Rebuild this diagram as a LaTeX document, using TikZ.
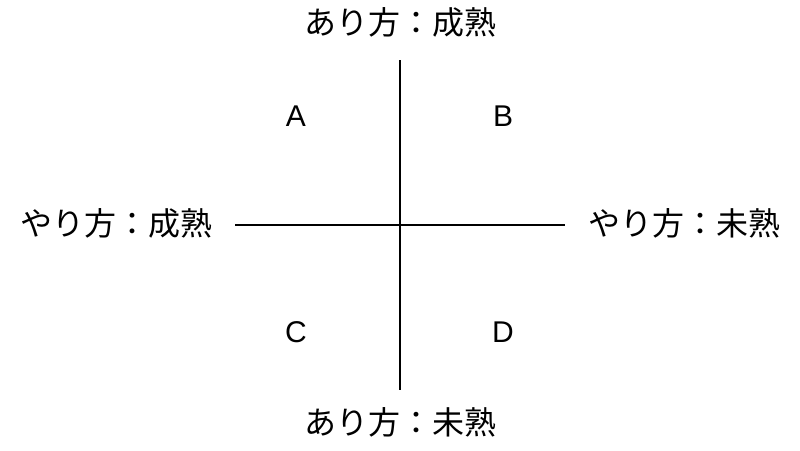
\documentclass[tikz,border=0pt]{standalone}
\usepackage{fontspec}
\setmainfont{Liberation Sans}
\newfontfamily\cjk{Noto Sans CJK JP}
\begin{document}
\begin{tikzpicture}[x=1pt,y=-1pt,
  axislabel/.style={font=\cjk\fontsize{32}{36}\selectfont, inner sep=0pt},
  quad/.style={font=\fontsize{30}{34}\selectfont, inner sep=0pt},
  axisline/.style={line width=1.5pt, black}]
\useasboundingbox[fill=white] (0,0) rectangle (800,450);
\coordinate (vtop) at (400,60);
\coordinate (vbot) at (400,390);
\coordinate (hl) at (235,225);
\coordinate (hr) at (565,225);
\draw[axisline] (vtop) -- (vbot);
\draw[axisline] (hl) -- (hr);
\node[axislabel] (top) at (400,22) {あり方：成熟};
\node[axislabel] (bottom) at (400,422) {あり方：未熟};
\node[axislabel] (left) at (116,223) {やり方：成熟};
\node[axislabel] (right) at (684,223) {やり方：未熟};
\node[quad] (A) at (296,116) {A};
\node[quad] (B) at (503,116) {B};
\node[quad] (C) at (296,332) {C};
\node[quad] (D) at (503,332) {D};
\end{tikzpicture}
\end{document}
